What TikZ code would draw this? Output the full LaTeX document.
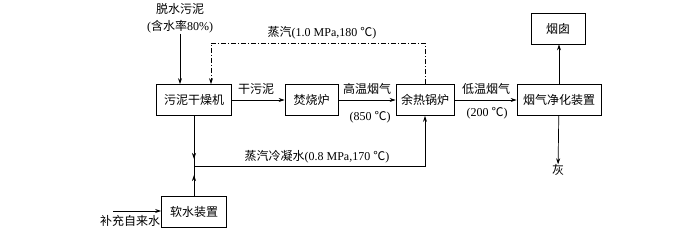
\documentclass[tikz,border=0pt]{standalone}
\usepackage{fontspec}
\setmainfont{Liberation Serif}
\newfontfamily\cjk{Noto Sans CJK SC}
\usepackage{tikz}
\usetikzlibrary{arrows.meta,positioning,calc}

\begin{document}
\begin{tikzpicture}[x=1pt,y=-1pt,
  font=\fontsize{12}{15}\selectfont,
  unit/.style={draw,line width=0.8pt,minimum height=31pt,inner sep=2pt},
  flow/.style={line width=0.7pt,-{Stealth[length=6pt,width=4pt]}},
  pipe/.style={line width=0.7pt},
  steam/.style={flow,dash pattern=on 5pt off 2pt on 1pt off 2pt},
  lbl/.style={inner sep=0pt}]
\useasboundingbox (0,0) rectangle (700,231);
% process units
\node[unit,minimum width=75pt] (dryer) at (194,100) {\cjk 污泥干燥机};
\node[unit,minimum width=53pt] (furnace) at (311.5,100) {\cjk 焚烧炉};
\node[unit,minimum width=58pt] (boiler) at (425,100) {\cjk 余热锅炉};
\node[unit,minimum width=84pt] (clean) at (559,100) {\cjk 烟气净化装置};
\node[unit,minimum width=54pt] (chimney) at (558,28.5) {\cjk 烟囱};
\node[unit,minimum width=65pt] (soft) at (194,212) {\cjk 软水装置};
% feed and outlets
\node[lbl,align=center,font=\fontsize{12}{17}\selectfont] (sludge) at (180,18.5) {{\cjk 脱水污泥}\\({\cjk 含水率}80\%)};
\node[lbl] (ash) at (558,170) {\cjk 灰};
\node[lbl] (water) at (130,221) {\cjk 补充自来水};
\coordinate (mw) at (113,211);
\coordinate (j) at (194,166);
% main line
\draw[flow] (sludge.south) -- (sludge.south |- dryer.north);
\draw[flow] (dryer) -- (furnace);
\draw[flow] (furnace) -- (boiler);
\draw[flow] (boiler) -- (clean);
\draw[flow] (clean) -- (clean |- chimney.south);
\draw[flow] (clean) -- (ash);
\draw[flow] (mw) -- (mw -| soft.west);
\node[lbl] at (256,89) {\cjk 干污泥};
\node[lbl] at (367,89) {\cjk 高温烟气};
\node[lbl] at (370,117) {(850 {\cjk ℃})};
\node[lbl] at (486,89) {\cjk 低温烟气};
\node[lbl] at (487,113) {(200 {\cjk ℃})};
% steam back to dryer
\draw[steam] (boiler.north) -- (boiler.north |- 0,43) -| ([xshift=17pt]dryer.north);
\node[lbl] at (322,33) {{\cjk 蒸汽}(1.0 MPa,180 {\cjk ℃})};
% condensate and make-up water
\draw[pipe] (dryer.south) -- (j);
\draw[flow] (dryer.south) -- ($(j)+(0,-7)$);
\draw[pipe] (soft.north) -- (j);
\draw[flow] (soft.north) -- ($(j)+(0,9)$);
\draw[flow] (j) -- (j -| boiler) -- (boiler.south);
\node[lbl] at (317,157) {{\cjk 蒸汽冷凝水}(0.8 MPa,170 {\cjk ℃})};
\end{tikzpicture}
\end{document}
